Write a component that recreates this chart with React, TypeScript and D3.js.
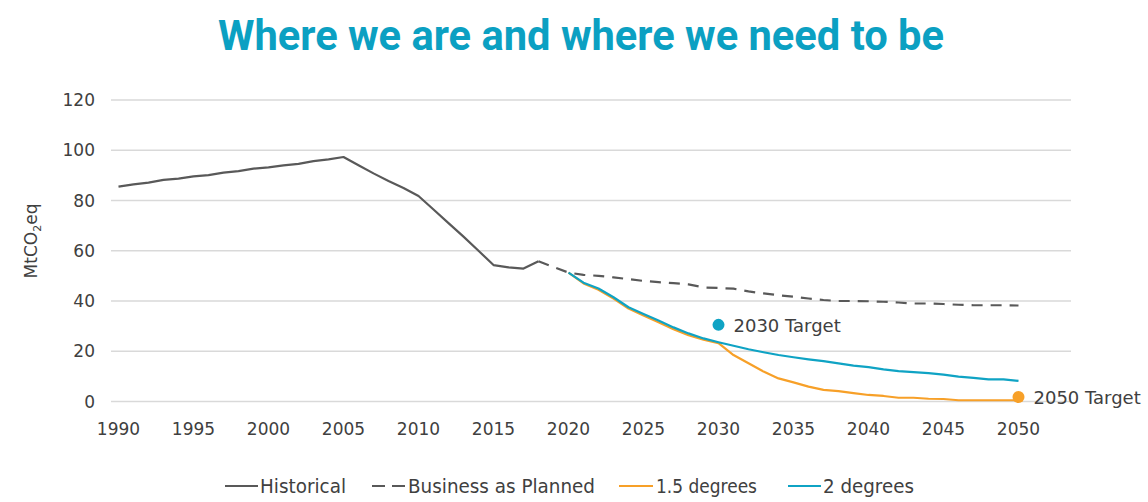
import * as d3 from "d3";
import { useEffect } from "react";

const yTicks = [0, 20, 40, 60, 80, 100, 120];
const xTicks = [1990, 1995, 2000, 2005, 2010, 2015, 2020, 2025, 2030, 2035, 2040, 2045, 2050];

// 1990..2018
const historical = [
  85.5, 86.4, 87.1, 88.2, 88.7, 89.6, 90.1, 91.1, 91.7, 92.7,
  93.2, 94.0, 94.6, 95.7, 96.4, 97.3, 94.0, 90.8, 87.8, 85.0,
  81.8, 76.4, 71.0, 65.6, 60.0, 54.3, 53.4, 52.9, 55.8,
];
// 2018..2050
const businessAsPlanned = [
  55.8, 53.5, 51.3, 50.4, 50.0, 49.4, 48.7, 48.0, 47.5, 47.1,
  46.6, 45.4, 45.2, 44.9, 43.8, 43.0, 42.3, 41.7, 41.0, 40.4,
  40.0, 40.0, 39.9, 39.7, 39.4, 39.0, 39.0, 38.8, 38.5, 38.3,
  38.3, 38.3, 38.2,
];
// 2020..2050
const deg15 = [
  51.3, 47.0, 44.5, 41.0, 37.0, 34.2, 31.5, 28.8, 26.4, 24.6,
  23.2, 18.5, 15.2, 11.9, 9.2, 7.6, 5.9, 4.6, 4.1, 3.3,
  2.6, 2.2, 1.5, 1.5, 1.1, 1.0, 0.5, 0.5, 0.5, 0.5, 0.5,
];
// 2020..2050
const deg2 = [
  51.3, 47.3, 45.0, 41.5, 37.5, 34.8, 32.2, 29.5, 27.1, 25.1,
  23.6, 22.2, 20.8, 19.6, 18.5, 17.6, 16.8, 16.1, 15.2, 14.3,
  13.7, 12.8, 12.1, 11.7, 11.3, 10.7, 9.9, 9.4, 8.8, 8.8, 8.2,
];
const targets = [
  { year: 2030, value: 30.5, label: "2030 Target", color: "#0fa3c4" },
  { year: 2050, value: 1.8, label: "2050 Target", color: "#f7a028" },
];

const GRAY = "#595959";
const ORANGE = "#f7a028";
const TEAL = "#0fa3c4";
const TEXT = "#404040";
const FONT = "'DejaVu Sans', sans-serif";

export default function App() {
  useEffect(() => {
    document.body.style.margin = "0";
  }, []);

  const width = 1148;
  const height = 502;
  const x = d3.scaleLinear().domain([1989.5, 2053.5]).range([111, 1071]);
  const y = d3.scaleLinear().domain([0, 120]).range([401.5, 100]);

  const line = d3
    .line<[number, number]>()
    .x(d => x(d[0]))
    .y(d => y(d[1]));

  const pair = (start: number, vals: number[]) =>
    vals.map((v, i) => [start + i, v] as [number, number]);

  const series = [
    { name: "Historical", data: pair(1990, historical), color: GRAY, dash: undefined },
    { name: "Business as Planned", data: pair(2018, businessAsPlanned), color: GRAY, dash: "11,8" },
    { name: "1.5 degrees", data: pair(2020, deg15), color: ORANGE, dash: undefined },
    { name: "2 degrees", data: pair(2020, deg2), color: TEAL, dash: undefined },
  ];

  // legend layout: sample x1, x2, text start, text width
  const legend = [
    { name: "Historical", x1: 225, x2: 258, tx: 260, tw: 86, color: GRAY, dash: undefined },
    { name: "Business as Planned", x1: 372, x2: 406, tx: 408, tw: 187, color: GRAY, dash: "13,7" },
    { name: "1.5 degrees", x1: 619, x2: 653, tx: 656, tw: 101, color: ORANGE, dash: undefined },
    { name: "2 degrees", x1: 788, x2: 821, tx: 823, tw: 91, color: TEAL, dash: undefined },
  ];

  return (
    <svg
      width={width}
      height={height}
      style={{ display: "block", background: "#fff" }}
      fontFamily={FONT}
    >
      <text
        x={581}
        y={50}
        textAnchor="middle"
        fill="#0ba0c2"
        fontSize={42}
        fontWeight={700}
        fontFamily="Roboto, sans-serif"
        textLength={726}
        lengthAdjust="spacingAndGlyphs"
      >
        Where we are and where we need to be
      </text>

      {yTicks.map(t => (
        <g key={t}>
          <line x1={111} x2={1071} y1={y(t)} y2={y(t)} stroke="#d9d9d9" strokeWidth={1.5} />
          <text x={95} y={y(t) + 6} textAnchor="end" fontSize={17} fill={TEXT}>
            {t}
          </text>
        </g>
      ))}

      {xTicks.map(t => (
        <text key={t} x={x(t)} y={435} textAnchor="middle" fontSize={17} fill={TEXT}>
          {t}
        </text>
      ))}

      <text
        transform="translate(37,241) rotate(-90)"
        textAnchor="middle"
        fontSize={17}
        fill={TEXT}
      >
        MtCO<tspan fontSize={11} dy={4}>2</tspan>
        <tspan dy={-4}>eq</tspan>
      </text>

      {series.map(s => (
        <path
          key={s.name}
          d={line(s.data) ?? ""}
          fill="none"
          stroke={s.color}
          strokeWidth={2.2}
          strokeDasharray={s.dash}
          strokeLinejoin="round"
        />
      ))}

      {targets.map(t => (
        <g key={t.label}>
          <circle cx={x(t.year)} cy={y(t.value)} r={6} fill={t.color} />
          <text x={x(t.year) + 15} y={y(t.value) + 7} fontSize={18} fill={TEXT}>
            {t.label}
          </text>
        </g>
      ))}

      {legend.map(l => (
        <g key={l.name}>
          <line
            x1={l.x1}
            x2={l.x2}
            y1={486}
            y2={486}
            stroke={l.color}
            strokeWidth={2.2}
            strokeDasharray={l.dash}
          />
          <text
            x={l.tx}
            y={493}
            fontSize={19}
            fill={TEXT}
            textLength={l.tw}
            lengthAdjust="spacingAndGlyphs"
          >
            {l.name}
          </text>
        </g>
      ))}
    </svg>
  );
}
